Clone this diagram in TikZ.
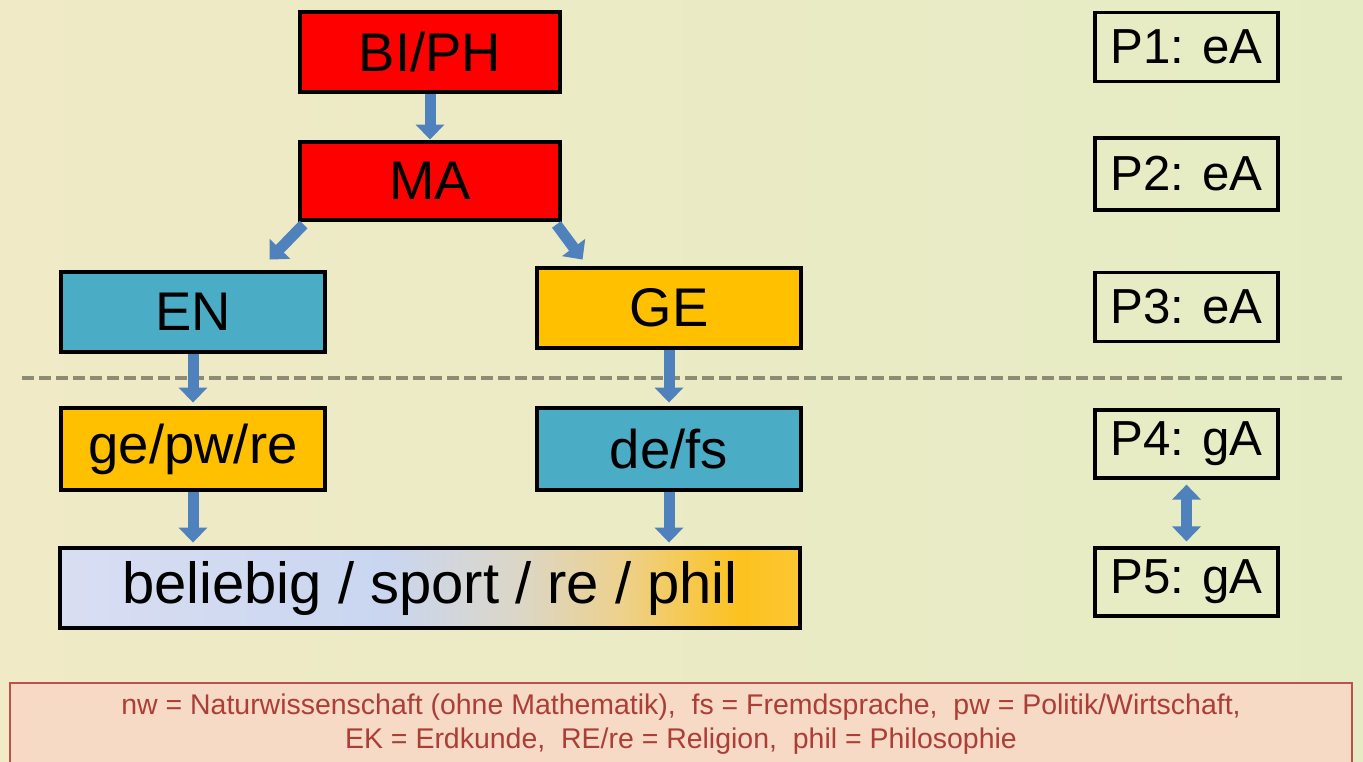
\documentclass[tikz,border=0pt]{standalone}
\usepackage{fontspec}
\setmainfont{Liberation Sans}
\usepackage{tikz}
\usetikzlibrary{arrows.meta}
\usetikzlibrary{calc}

\definecolor{bgleft}{RGB}{240,234,198}
\definecolor{bgright}{RGB}{229,236,196}
\definecolor{boxred}{RGB}{255,0,0}
\definecolor{boxblue}{RGB}{75,172,198}
\definecolor{boxgold}{RGB}{255,192,0}
\definecolor{arrblue}{RGB}{79,129,189}
\definecolor{legline}{RGB}{192,80,77}
\definecolor{legfill}{RGB}{246,218,198}
\definecolor{legtext}{RGB}{172,62,56}
\definecolor{dashgray}{RGB}{140,140,118}

\pgfdeclarehorizontalshading{belshade}{100bp}{rgb(0bp)=(0.85,0.87,0.95); rgb(25bp)=(0.85,0.87,0.95);
	rgb(47bp)=(0.79,0.84,0.94); rgb(56bp)=(0.86,0.84,0.78); rgb(63bp)=(0.93,0.82,0.55);
	rgb(71bp)=(0.99,0.76,0.12); rgb(75bp)=(0.99,0.78,0.20); rgb(100bp)=(0.99,0.78,0.20)}

\begin{document}
\begin{tikzpicture}[
	box/.style={draw=black,line width=1.4pt,minimum width=2.64cm,minimum height=0.80cm,inner sep=0pt,font=\fontsize{15.5}{18}\selectfont},
	pbox/.style={draw=black,line width=0.9pt,minimum width=1.83cm,minimum height=0.69cm,inner sep=0pt,font=\fontsize{14}{16}\selectfont},
	arr/.style={arrblue,line width=1.1mm,-{Triangle[width=2.8mm,length=1.5mm]}},
	dblarr/.style={arrblue,line width=1.1mm,{Triangle[width=2.8mm,length=1.5mm]}-{Triangle[width=2.8mm,length=1.5mm]}}]
	\useasboundingbox (0,0) rectangle (13.63,-7.61);
	% background
	\shade[left color=bgleft,right color=bgright] (0,0) rectangle (13.63,-7.61);
	
	% left tree
	\node[box,fill=boxred,minimum width=2.60cm] (biph) at (4.30,-0.52) {BI/PH};
	\node[box,fill=boxred,minimum width=2.60cm,minimum height=0.78cm] (ma) at (4.30,-1.81) {MA};
	\node[box,fill=boxblue] (en) at (1.93,-3.12) {EN};
	\node[box,fill=boxgold] (ge) at (6.69,-3.08) {GE};
	\node[box,fill=boxgold,minimum height=0.82cm] (gpr) at (1.93,-4.49) {ge/pw/re};
	\node[box,fill=boxblue,minimum height=0.82cm] (defs) at (6.69,-4.49) {de/fs};
	\node[box,shading=belshade,minimum width=7.40cm,font=\fontsize{16.5}{19}\selectfont] (bel) at (4.30,-5.88) {beliebig / sport / re / phil};
	
	% right column
	\node[pbox] (p1) at (11.865,-0.47) {P1: eA};
	\node[pbox,minimum height=0.72cm] (p2) at (11.865,-1.74) {P2: eA};
	\node[pbox] (p3) at (11.865,-3.07) {P3: eA};
	\node[pbox,minimum height=0.68cm] (p4) at (11.865,-4.44) {P4: gA};
	\node[pbox,minimum height=0.68cm] (p5) at (11.865,-5.82) {P5: gA};
	
	% separator
	\draw[dashgray,line width=1pt,dash pattern=on 1.2mm off 0.5mm] (0.22,-3.78) -- (13.42,-3.78);
	
	% arrows
	\draw[arr] (biph.south) -- (ma.north);
	\draw[arr] ($(ma.south west)+(0.06,-0.02)$) -- ($(en.north east)+(-0.58,0.10)$);
	\draw[arr] ($(ma.south east)+(-0.06,-0.02)$) -- ($(ge.north west)+(0.48,0.06)$);
	\draw[arr] (en.south) -- ($(gpr.north)+(0,0.03)$);
	\draw[arr] (ge.south) -- ($(defs.north)+(0,0.03)$);
	\draw[arr] (gpr.south) -- ($(bel.north -| gpr.south)+(0,0.03)$);
	\draw[arr] (defs.south) -- ($(bel.north -| defs.south)+(0,0.03)$);
	\draw[dblarr] ($(p4.south)+(0,-0.05)$) -- ($(p5.north)+(0,0.05)$);
	
	% legend
	\draw[legline,fill=legfill,line width=0.6pt] (0.10,-6.83) rectangle (13.52,-7.75);
	\node[legtext,align=center,font=\fontsize{8.1}{9.6}\selectfont] (legend) at (6.81,-7.24)
	{nw = Naturwissenschaft (ohne Mathematik), \ fs = Fremdsprache, \ pw = Politik/Wirtschaft,\\
		EK = Erdkunde, \ RE/re = Religion, \ phil = Philosophie};
\end{tikzpicture}
\end{document}
